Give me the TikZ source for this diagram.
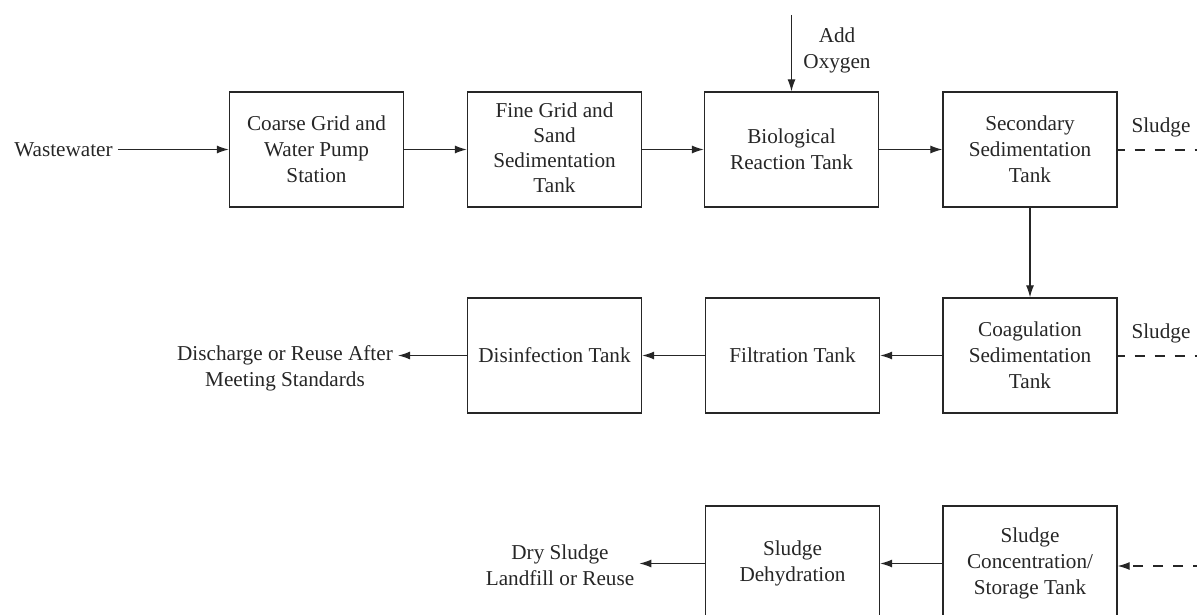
\documentclass[tikz,border=0pt]{standalone}
\usepackage{fontspec}
\setmainfont{Liberation Serif}
\usetikzlibrary{arrows.meta}
\definecolor{ink}{HTML}{262626}
\tikzset{
  proc/.style={draw=ink, line width=1.3pt, minimum width=174pt, minimum height=115pt,
    inner sep=0pt, align=center, text=ink, font=\fontsize{21.2pt}{26pt}\selectfont},
  lbl/.style={align=center, text=ink, inner sep=5pt, font=\fontsize{21.2pt}{26pt}\selectfont},
  flow/.style={draw=ink, line width=1.2pt, -{Latex[length=12pt,width=8pt]}},
  sludgeline/.style={draw=ink, line width=1.2pt, dash pattern=on 10pt off 10pt, dash phase=3pt},
}
\begin{document}
\begin{tikzpicture}[x=1pt,y=-1pt]
\clip (0,0) rectangle (1197,615);
% row 1
\node[proc] (b1) at (316.5,149.5) {Coarse Grid and\\Water Pump\\Station};
\node[proc] (b2) at (554.5,149.5) {};
\node[lbl, inner sep=0pt, font=\fontsize{21.2pt}{25pt}\selectfont] (b2t) at ([yshift=2pt]b2.center) {Fine Grid and\\Sand\\Sedimentation\\Tank};
\node[proc] (b3) at (791.5,149.5) {Biological\\Reaction Tank};
\node[proc] (b4) at (1030,149.5) {Secondary\\Sedimentation\\Tank};
% row 2
\node[proc] (c1) at (554.5,355.5) {Disinfection Tank};
\node[proc] (c2) at (792.5,355.5) {Filtration Tank};
\node[proc] (c3) at (1030,355.5) {Coagulation\\Sedimentation\\Tank};
% row 3
\node[proc] (d1) at (792.5,563.5) {Sludge\\Dehydration};
\node[proc] (d2) at (1030,563.5) {Sludge\\Concentration/\\Storage Tank};
% labels
\node[lbl] (ww) at (63.5,149.5) {Wastewater};
\node[lbl] (ox) at (837,50) {Add\\Oxygen};
\node[lbl] (dis) at (285,368) {Discharge or Reuse After\\Meeting Standards};
\node[lbl] (dry) at (560,565) {Dry Sludge\\Landfill or Reuse};
\node[lbl] (s1) at (1161,127) {Sludge};
\node[lbl] (s2) at (1161,333) {Sludge};
\coordinate (oxtop) at (791.5,15);
\coordinate (r1) at (1197,150);
\coordinate (r2) at (1197,356);
\coordinate (r3) at (1197,566);
% flows
\draw[flow] (ww.east) -- (b1.west);
\draw[flow] (b1.east) -- (b2.west);
\draw[flow] (b2.east) -- (b3.west);
\draw[flow] (b3.east) -- (b4.west);
\draw[flow] (oxtop) -- (b3.north);
\draw[flow] (b4.south) -- (c3.north);
\draw[flow] (c3.west) -- (c2.east);
\draw[flow] (c2.west) -- (c1.east);
\draw[flow] (c1.west) -- (c1.west -| dis.east);
\draw[flow] (d2.west) -- (d1.east);
\draw[flow] (d1.west) -- (d1.west -| dry.east);
% sludge lines
\draw[sludgeline] (b4.east |- r1) -- (r1);
\draw[sludgeline] (c3.east |- r2) -- (r2);
\draw[sludgeline, -{Latex[length=12pt,width=8pt]}, dash phase=6pt] (r3) -- (d2.east |- r3);
\end{tikzpicture}
\end{document}
